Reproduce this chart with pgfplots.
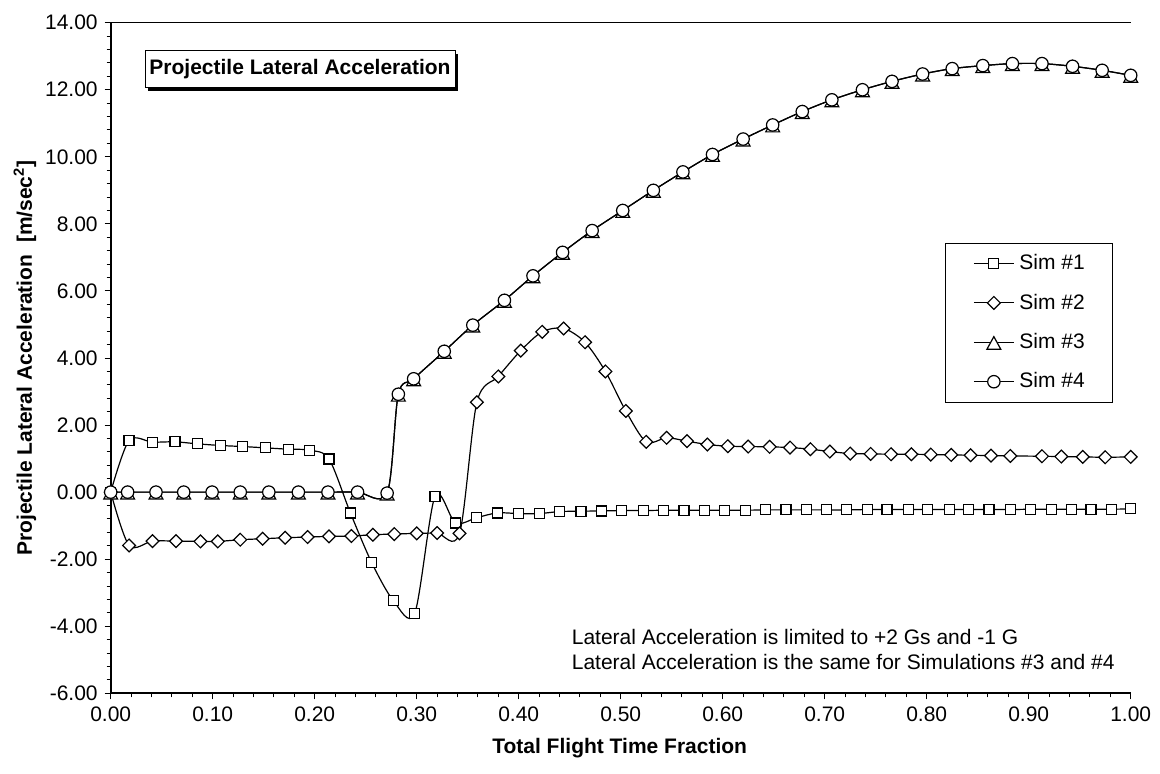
\documentclass[border=0pt]{standalone}
\usepackage{fontspec}
\setmainfont{Liberation Sans}
\usepackage{pgfplots}
\pgfplotsset{compat=1.18}
\usetikzlibrary{shadows}

\pgfdeclareplotmark{xdiamond}{%
 \pgfpathmoveto{\pgfqpoint{0pt}{\pgfplotmarksize}}%
 \pgfpathlineto{\pgfqpoint{\pgfplotmarksize}{0pt}}%
 \pgfpathlineto{\pgfqpoint{0pt}{-\pgfplotmarksize}}%
 \pgfpathlineto{\pgfqpoint{-\pgfplotmarksize}{0pt}}%
 \pgfpathclose\pgfusepathqfillstroke}
\pgfdeclareplotmark{xtriangle}{%
 \pgfpathmoveto{\pgfqpoint{0pt}{0.95\pgfplotmarksize}}%
 \pgfpathlineto{\pgfqpoint{1.15\pgfplotmarksize}{-1.15\pgfplotmarksize}}%
 \pgfpathlineto{\pgfqpoint{-1.15\pgfplotmarksize}{-1.15\pgfplotmarksize}}%
 \pgfpathclose\pgfusepathqfillstroke}

\pgfplotstableread{
x y
0 0
0.018 1.54
0.041 1.49
0.063 1.50
0.085 1.44
0.108 1.39
0.129 1.36
0.152 1.32
0.174 1.28
0.195 1.25
0.214 0.99
0.235 -0.62
0.256 -2.11
0.277 -3.23
0.298 -3.62
0.318 -0.12
0.338 -0.92
0.359 -0.76
0.379 -0.62
0.400 -0.64
0.420 -0.64
0.440 -0.58
0.461 -0.57
0.481 -0.56
0.501 -0.55
0.522 -0.55
0.542 -0.54
0.562 -0.54
0.582 -0.54
0.602 -0.54
0.622 -0.54
0.642 -0.53
0.662 -0.53
0.682 -0.53
0.702 -0.53
0.721 -0.53
0.742 -0.52
0.761 -0.52
0.782 -0.52
0.801 -0.52
0.822 -0.52
0.841 -0.52
0.861 -0.52
0.882 -0.52
0.902 -0.51
0.922 -0.51
0.942 -0.51
0.961 -0.51
0.981 -0.51
1.000 -0.50
}\simA

\pgfplotstableread{
x y
0 0
0.018 -1.59
0.041 -1.46
0.064 -1.46
0.088 -1.47
0.105 -1.47
0.127 -1.42
0.149 -1.39
0.171 -1.36
0.193 -1.34
0.214 -1.32
0.236 -1.31
0.257 -1.27
0.278 -1.25
0.300 -1.23
0.320 -1.22
0.342 -1.23
0.359 2.68
0.380 3.45
0.402 4.22
0.423 4.78
0.444 4.88
0.465 4.47
0.485 3.60
0.505 2.42
0.525 1.50
0.545 1.62
0.565 1.52
0.585 1.42
0.605 1.37
0.625 1.36
0.646 1.35
0.666 1.33
0.686 1.28
0.705 1.21
0.725 1.15
0.745 1.14
0.765 1.13
0.785 1.13
0.804 1.12
0.824 1.11
0.843 1.10
0.863 1.09
0.882 1.08
0.913 1.07
0.932 1.06
0.953 1.05
0.975 1.04
1.000 1.05
}\simB

\pgfplotstableread{
x y
0 0
0.0166 0
0.0444 0
0.0716 0
0.0994 0
0.127 0
0.155 0
0.184 0
0.213 0
0.242 0
0.271 -0.03
0.282 2.92
0.297 3.38
0.327 4.20
0.355 4.98
0.386 5.72
0.414 6.45
0.443 7.15
0.472 7.80
0.502 8.40
0.532 9.00
0.561 9.55
0.590 10.07
0.620 10.53
0.649 10.95
0.678 11.35
0.707 11.70
0.737 12.00
0.766 12.25
0.796 12.47
0.825 12.63
0.855 12.72
0.884 12.78
0.913 12.78
0.943 12.70
0.972 12.58
1.000 12.43
}\simC

\pgfplotstableread{
x y
0 0
0.0166 0
0.0444 0
0.0716 0
0.0994 0
0.127 0
0.155 0
0.184 0
0.213 0
0.242 0
0.271 -0.03
0.282 2.92
0.297 3.38
0.327 4.20
0.355 4.98
0.386 5.72
0.414 6.45
0.443 7.15
0.472 7.80
0.502 8.40
0.532 9.00
0.561 9.55
0.590 10.07
0.620 10.53
0.649 10.95
0.678 11.35
0.707 11.70
0.737 12.00
0.766 12.25
0.796 12.47
0.825 12.63
0.855 12.72
0.884 12.78
0.913 12.78
0.943 12.70
0.972 12.58
1.000 12.43
}\simD

\begin{document}
\begin{tikzpicture}
\path[use as bounding box] (-55.35pt,-39.85pt) rectangle (524.65pt,346.65pt);
\begin{axis}[
  at={(0pt,0pt)}, anchor=south west,
  scale only axis, width=510pt, height=335.3pt,
  xmin=0, xmax=1, ymin=-6, ymax=14,
  xtick={0,0.1,0.2,0.3,0.4,0.5,0.6,0.7,0.8,0.9,1},
  ytick={-6,-4,-2,0,2,4,6,8,10,12,14},
  minor x tick num=4, minor y tick num=4,
  axis x line*=bottom, axis y line*=left,
  x axis line style={-, line width=1pt},
  y axis line style={-, line width=1pt},
  tick align=outside,
  major tick length=3pt, minor tick length=2pt,
  tick style={black, line width=0.5pt},
  tick label style={font=\fontsize{10.5}{12}\selectfont},
  /pgf/number format/.cd, fixed, fixed zerofill, precision=2, assume math mode=true,
  /pgfplots/.cd,
  xlabel={Total Flight Time Fraction},
  ylabel={Projectile Lateral Acceleration\ \ [m/sec\textsuperscript{2}]},
  label style={font=\fontsize{10.5}{12}\selectfont\bfseries},
  xlabel style={at={(axis description cs:0.499,-0.0816)}, anchor=center},
  ylabel style={at={(axis description cs:-0.084,0.5)}, anchor=center},
  every axis plot/.append style={black, line width=0.6pt, smooth, tension=0.5,
     mark options={fill=white, solid, line width=0.6pt}},
  legend image code/.code={\draw[mark repeat=2,mark phase=2] plot coordinates {(0pt,0pt)(10pt,0pt)(20pt,0pt)};},
  legend style={at={(0.818,0.672)}, anchor=north west, draw=black, line width=0.5pt,
     font=\fontsize{10.5}{12}\selectfont, inner xsep=13.85pt, inner ysep=5.6pt,
     row sep=10.6pt, nodes={inner sep=0pt},
     /tikz/every odd column/.append style={column sep=2.5pt}},
  legend cell align=left,
  clip=false,
]
\addplot[mark=square*, mark size=2.5pt] table {\simA};
\addlegendentry{Sim \#1}
\addplot[mark=xdiamond, mark size=3.2pt] table {\simB};
\addlegendentry{Sim \#2}
\addplot[mark=xtriangle, mark size=3pt] table {\simC};
\addlegendentry{Sim \#3}
\addplot[mark=*, mark size=3.1pt] table {\simD};
\addlegendentry{Sim \#4}
\draw[line width=0.7pt] (rel axis cs:0,1) -- (rel axis cs:1,1);
\node[draw=black, line width=0.5pt, fill=white,
  drop shadow={shadow xshift=1.7pt, shadow yshift=-1.7pt, opacity=1, fill=black},
  font=\fontsize{10.5}{12}\selectfont\bfseries, minimum width=155pt, minimum height=18.8pt, inner sep=0pt]
  at (axis cs:0.1856,12.62) {Projectile Lateral Acceleration};
\node[anchor=base west, inner sep=0pt, font=\fontsize{10.5}{12}\selectfont] at (axis cs:0.4517,-4.53) {Lateral Acceleration is limited to +2 Gs and -1 G};
\node[anchor=base west, inner sep=0pt, font=\fontsize{10.5}{12}\selectfont] at (axis cs:0.4517,-5.30) {Lateral Acceleration is the same for Simulations \#3 and \#4};
\end{axis}
\end{tikzpicture}
\end{document}
